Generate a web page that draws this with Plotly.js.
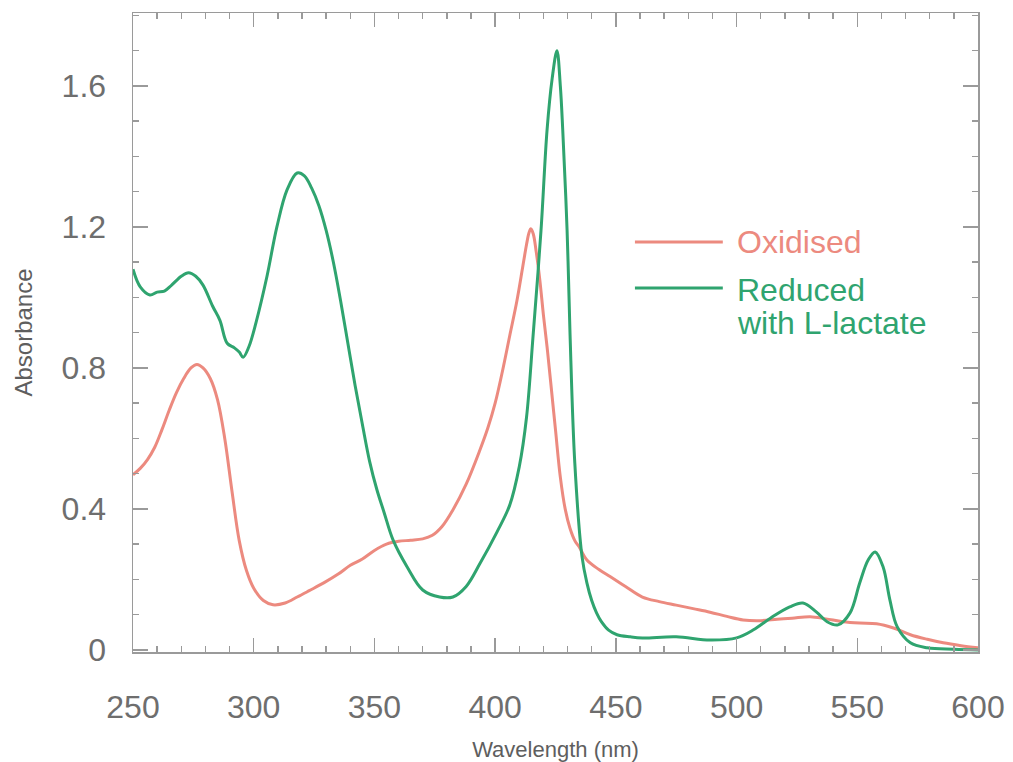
<!DOCTYPE html>
<html>
<head>
<meta charset="utf-8">
<script src="https://cdn.plot.ly/plotly-3.0.1.min.js"></script>
<style>
  html, body { margin: 0; padding: 0; background: #ffffff; }
  #chart { width: 1013px; height: 762px; }
</style>
</head>
<body>
<div id="chart"></div>
<script>
// Absorption spectra: oxidised enzyme vs. enzyme reduced with L-lactate
const oxidisedWavelength = [250, 253, 256, 259, 262, 265, 268, 271, 274, 276.5, 279, 282, 285, 288, 291, 294, 297, 300, 304, 308, 313, 318, 323, 329, 335, 340, 345, 350, 355, 360, 365, 370, 374, 378, 382.5, 388, 393.7, 397, 400, 403, 406, 409, 411.5, 413, 414, 414.8, 415.8, 417, 418.5, 420, 421.5, 423, 425, 427, 429, 431, 433, 435, 438, 443, 447.6, 454, 461, 468, 475, 482, 489, 496, 502.7, 510, 516.8, 523, 530.5, 537, 544, 551, 558, 565, 572, 579, 585.6, 593, 600];
const oxidisedAbsorbance = [0.497, 0.515, 0.54, 0.575, 0.625, 0.68, 0.73, 0.77, 0.80, 0.81, 0.80, 0.77, 0.71, 0.60, 0.45, 0.31, 0.225, 0.175, 0.14, 0.128, 0.133, 0.15, 0.168, 0.19, 0.215, 0.24, 0.258, 0.282, 0.30, 0.308, 0.311, 0.315, 0.325, 0.35, 0.397, 0.47, 0.567, 0.63, 0.70, 0.79, 0.89, 0.99, 1.09, 1.15, 1.183, 1.195, 1.18, 1.13, 1.05, 0.95, 0.86, 0.76, 0.624, 0.49, 0.40, 0.345, 0.31, 0.29, 0.255, 0.228, 0.208, 0.18, 0.15, 0.137, 0.127, 0.117, 0.107, 0.095, 0.085, 0.083, 0.087, 0.09, 0.094, 0.088, 0.08, 0.076, 0.074, 0.062, 0.043, 0.03, 0.02, 0.012, 0.006];

const reducedWavelength = [250, 253, 257, 260, 263, 266, 270, 273, 276, 279, 283, 286, 289, 292, 294, 295.6, 298, 301, 305.5, 309.6, 313.8, 318, 321, 324, 327, 330, 333, 336, 339, 342, 345, 348, 351, 354, 357.7, 363.5, 370, 377, 382.5, 388, 393.7, 400.8, 406, 410, 413, 415.7, 419, 421.5, 423.6, 425.6, 427, 428, 429.8, 431, 433, 436, 438, 440, 442, 444, 447, 450.5, 456, 461, 475, 489, 500, 507, 514, 522, 527.5, 533, 537.5, 542, 547, 551, 554.5, 557.4, 560.7, 563.5, 566.5, 572, 579, 590, 600];
const reducedAbsorbance = [1.08, 1.03, 1.007, 1.015, 1.018, 1.035, 1.06, 1.07, 1.06, 1.035, 0.975, 0.935, 0.87, 0.857, 0.845, 0.83, 0.86, 0.93, 1.06, 1.2, 1.305, 1.353, 1.345, 1.31, 1.26, 1.19, 1.10, 0.99, 0.87, 0.75, 0.64, 0.535, 0.455, 0.39, 0.312, 0.236, 0.17, 0.15, 0.15, 0.18, 0.245, 0.335, 0.41, 0.52, 0.66, 0.89, 1.19, 1.475, 1.62, 1.70, 1.60, 1.475, 1.19, 0.90, 0.53, 0.264, 0.19, 0.14, 0.105, 0.08, 0.056, 0.043, 0.037, 0.034, 0.037, 0.028, 0.034, 0.057, 0.09, 0.122, 0.133, 0.108, 0.08, 0.071, 0.105, 0.19, 0.255, 0.278, 0.235, 0.142, 0.066, 0.02, 0.006, 0.002, 0.0];

const seriesNames = ['Oxidised', 'Reduced', 'with L-lactate'];
const xTickValues = [250, 300, 350, 400, 450, 500, 550, 600];
const yTickValues = [0, 0.4, 0.8, 1.2, 1.6];

const oxColor = '#ec8a7f';
const redColor = '#2fa46f';
const axisColor = '#9a9a9a';
const textColor = '#6e6e6e';
const fontFamily = '"Liberation Sans", Arial, Helvetica, sans-serif';

const traces = [
  {
    x: oxidisedWavelength, y: oxidisedAbsorbance, name: seriesNames[0],
    type: 'scatter', mode: 'lines',
    line: { color: oxColor, width: 3, shape: 'spline', smoothing: 1 },
    showlegend: false, hoverinfo: 'x+y'
  },
  {
    x: reducedWavelength, y: reducedAbsorbance, name: seriesNames[1] + ' ' + seriesNames[2],
    type: 'scatter', mode: 'lines',
    line: { color: redColor, width: 3, shape: 'spline', smoothing: 1 },
    showlegend: false, hoverinfo: 'x+y'
  }
];

const axisCommon = {
  showline: true, linecolor: axisColor, linewidth: 1.5,
  mirror: 'allticks', ticks: 'inside', tickcolor: axisColor, tickwidth: 1.5,
  showgrid: false, zeroline: false,
  tickfont: { family: fontFamily, size: 32, color: textColor }
};

const layout = {
  width: 1013, height: 762,
  margin: { l: 133, r: 35, t: 13, b: 110, pad: 0 },
  paper_bgcolor: '#ffffff', plot_bgcolor: '#ffffff',
  font: { family: fontFamily, color: textColor },
  xaxis: Object.assign({}, axisCommon, {
    range: [250, 600], tickmode: 'array', tickvals: xTickValues,
    ticklen: 14, ticklabelstandoff: 26,
    minor: { dtick: 10, tick0: 250, ticks: 'inside', ticklen: 6, tickcolor: axisColor, tickwidth: 1.5, showgrid: false },
    title: { text: 'Wavelength (nm)', font: { family: fontFamily, size: 22, color: '#5e5e5e' }, standoff: 17 }
  }),
  yaxis: Object.assign({}, axisCommon, {
    range: [-0.006, 1.807], tickmode: 'array', tickvals: yTickValues,
    ticktext: ['0', '0.4', '0.8', '1.2', '1.6'],
    ticklen: 15, ticklabelstandoff: 19,
    minor: { dtick: 0.1, tick0: 0, ticks: 'inside', ticklen: 6, tickcolor: axisColor, tickwidth: 1.5, showgrid: false },
    title: { text: 'Absorbance', font: { family: fontFamily, size: 24, color: '#5e5e5e' }, standoff: 22 }
  }),
  shapes: [
    { type: 'line', xref: 'paper', yref: 'paper', x0: 0.594, x1: 0.698, y0: 0.6416, y1: 0.6416, line: { color: oxColor, width: 3 } },
    { type: 'line', xref: 'paper', yref: 'paper', x0: 0.594, x1: 0.698, y0: 0.5696, y1: 0.5696, line: { color: redColor, width: 3 } }
  ],
  annotations: [
    { xref: 'paper', yref: 'paper', x: 0.712, y: 0.6416, xanchor: 'left', yanchor: 'middle', showarrow: false,
      text: seriesNames[0], font: { family: fontFamily, size: 32, color: oxColor } },
    { xref: 'paper', yref: 'paper', x: 0.712, y: 0.5665, xanchor: 'left', yanchor: 'middle', showarrow: false,
      text: seriesNames[1], font: { family: fontFamily, size: 32, color: redColor } },
    { xref: 'paper', yref: 'paper', x: 0.712, y: 0.515, xanchor: 'left', yanchor: 'middle', showarrow: false,
      text: seriesNames[2], font: { family: fontFamily, size: 32, color: redColor } }
  ],
  showlegend: false
};

Plotly.newPlot('chart', traces, layout, { displayModeBar: false, staticPlot: true });
</script>
</body>
</html>
